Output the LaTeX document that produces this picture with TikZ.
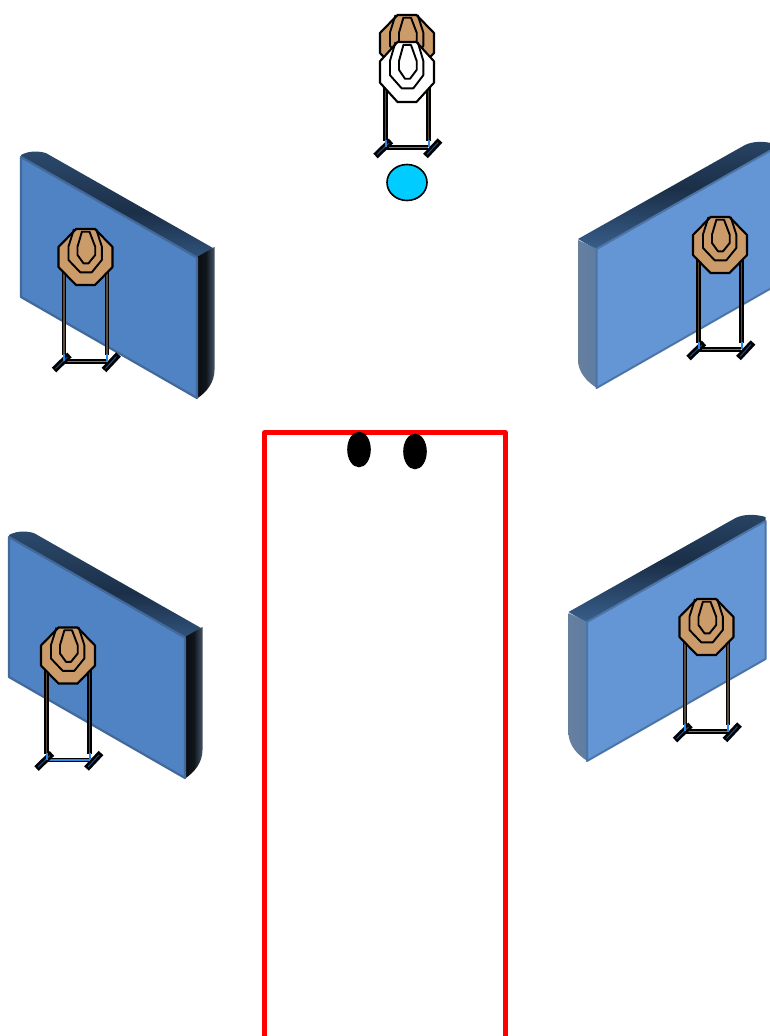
\documentclass[tikz,border=0pt]{standalone}
\definecolor{faceL}{HTML}{5083C3}
\definecolor{faceR}{HTML}{6496D6}
\definecolor{edgeL}{HTML}{42699A}
\definecolor{edgeR}{HTML}{4C75A5}
\definecolor{bandA}{HTML}{2F4F74}
\definecolor{bandB}{HTML}{1B2F48}
\definecolor{bandC}{HTML}{3F6A9C}
\definecolor{sideA}{HTML}{0A0C10}
\definecolor{sideB}{HTML}{11161C}
\definecolor{sideC}{HTML}{46586C}
\definecolor{leftA}{HTML}{667F9F}
\definecolor{leftB}{HTML}{5E7DA3}
\definecolor{tan}{HTML}{CC9B6A}
\definecolor{post}{HTML}{5A4C3C}
\definecolor{barblue}{HTML}{2F86E0}
\definecolor{footblue}{HTML}{1C4E86}
\definecolor{sky}{HTML}{00CCFF}
\tikzset{
  x=1pt,y=-1pt,
  outline/.style={draw=black,line width=2.1pt,line join=miter},
  ring/.style={draw=black,line width=1.9pt,line join=round},
  postline/.style={line width=4.4pt,draw=black},
  postcore/.style={line width=1.1pt,draw=post},
  footline/.style={line width=6.4pt,draw=black},
  footcore/.style={line width=1pt,draw=footblue},
}
% steel target plate, centred at #1,#2, filled #3, vertical scale #4
\newcommand{\plate}[4]{%
  \begin{scope}[shift={(#1,#2)},yscale=#4]
    \draw[outline,fill=#3] (-9.5,-28)--(9.5,-28)--(27,-10)--(27,10)--(9.5,28)--(-9.5,28)--(-27,10)--(-27,-10)--cycle;
    \draw[ring] (-11.5,-28)--(-17,-10.5)--(-17,3)--(-5.3,15.3)--(6.3,15.3)--(16.3,3)--(16.3,-10.5)--(10.7,-28);
    \draw[ring] (-3.6,-25.3)--(4,-25.3)--(9.7,-10.3)--(9.7,-2)--(3,6.3)--(-2,6.3)--(-8,-2)--(-8,-10.3)--cycle;
  \end{scope}}
% stand below the plate
\newcommand{\stand}[2]{%
  \begin{scope}[shift={(#1,#2)}]
    \draw[postline] (-21.5,10)--(-21.5,98); \draw[postcore] (-21.5,10)--(-21.5,97);
    \draw[postline] (21.5,10)--(21.5,98); \draw[postcore] (21.5,10)--(21.5,97);
    \draw[line width=4.6pt,draw=black] (-22,104.5)--(21,104.5);
    \draw[line width=1.4pt,draw=barblue] (-22,104.5)--(21,104.5);
    \draw[footline] (-31.5,113)--(-16,98);
    \draw[footcore] (-30,111.5)--(-18,100);
    \draw[footline] (18.5,113)--(33,97.5);
    \draw[footcore] (20,111.5)--(31,99.5);
    \draw[line width=2pt,draw=barblue] (-21.5,97)--(-21.5,104);
    \draw[line width=2pt,draw=barblue] (21.5,97)--(21.5,104);
  \end{scope}}
% wall seen from the left (dark end on the right)
\newcommand{\wallL}[2]{%
  \begin{scope}[shift={(#1,#2)}]
    \begin{scope}
      \clip (21,155) .. controls (30,150) and (43,150) .. (55,157) -- (214.5,247) -- (197,258) -- (21,157) -- cycle;
      \shade[shift={(21,155)},rotate=-29.6,top color=bandA,bottom color=bandC,middle color=bandB] (-10,-14) rectangle (230,21);
    \end{scope}
    \begin{scope}
      \clip (197,257) -- (214.5,247) -- (214.5,370) .. controls (214.5,382) and (207,392) .. (197,398.5) -- cycle;
      \shade[left color=sideA,right color=sideC,middle color=sideB] (197,240) rectangle (215,400);
    \end{scope}
    \draw[draw=edgeL,line width=2.2pt,fill=faceL,line join=round] (21,157) -- (197,257.5) -- (197,398) -- (21,297) -- cycle;
  \end{scope}}
% wall seen from the right (light end on the left)
\newcommand{\wallR}[2]{%
  \begin{scope}[shift={(#1,#2)}]
    \begin{scope}
      \clip (578,239) -- (745,145) .. controls (753,141) and (765,141) .. (775,144) -- (775,149) -- (597,250) -- cycle;
      \shade[shift={(578,239)},rotate=29.6,top color=bandA,bottom color=bandC,middle color=bandB] (-10,-14) rectangle (230,23);
    \end{scope}
    \begin{scope}
      \clip (578,240) -- (597,249) -- (597,388) .. controls (587,382) and (578,372) .. (578,360) -- cycle;
      \shade[left color=leftA,right color=leftB] (578,235) rectangle (597,390);
    \end{scope}
    \draw[draw=edgeR,line width=2pt,fill=faceR,line join=round] (596.5,249) -- (775,148) -- (775,286) -- (596.5,388) -- cycle;
  \end{scope}}
\begin{document}
\begin{tikzpicture}
  \useasboundingbox (0,0) rectangle (770,1036);
  \clip (0,0) rectangle (770,1036);
  \fill[white] (0,0) rectangle (770,1036);
  % walls
  \wallL{0}{0}
  \wallL{-12}{380}
  \wallR{0}{0}
  \wallR{-9.5}{373}
  % side targets
  \stand{85.5}{257}\plate{85.5}{257}{tan}{1}
  \stand{68}{655.5}\plate{68}{655.5}{tan}{1}
  \stand{720}{245}\plate{720}{245}{tan}{1}
  \stand{706.5}{627}\plate{706.5}{627}{tan}{1}
  % far target with the white one in front
  \stand{407}{43}\plate{407}{43}{tan}{1}
  \plate{407}{72}{white}{1.07}
  % shooter's marker
  \draw[fill=sky,draw=black,line width=1.6pt] (407,182.5) ellipse [x radius=20,y radius=18];
  % shooting box
  \draw[red,line width=4.6pt,line join=round] (264.5,1040) -- (264.5,432.5) -- (505.5,432.5) -- (505.5,1040);
  \fill[black] (359,449.5) ellipse [x radius=11.8,y radius=17.8];
  \fill[black] (415,451.5) ellipse [x radius=11.8,y radius=17.8];
\end{tikzpicture}
\end{document}
